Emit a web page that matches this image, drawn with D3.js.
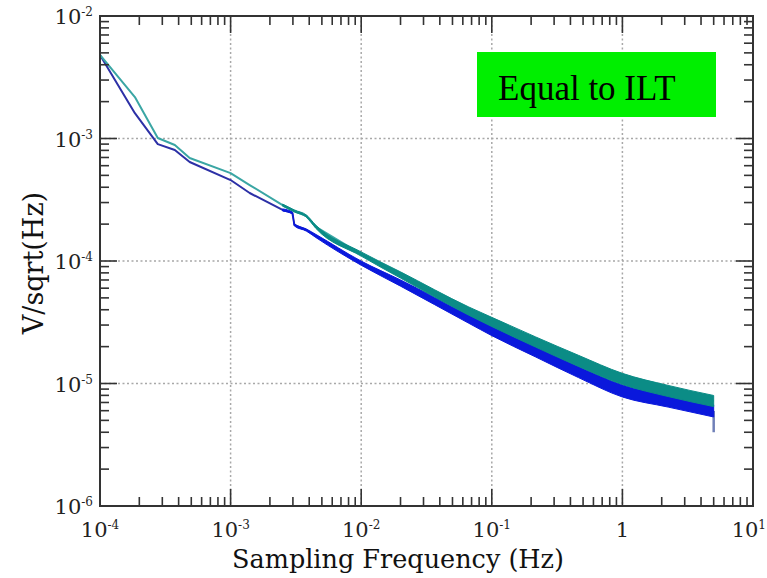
<!DOCTYPE html>
<html>
<head>
<meta charset="utf-8">
<script src="https://cdn.jsdelivr.net/npm/d3@7"></script>
<style>
  html, body { margin: 0; padding: 0; background: #fff; }
  svg { display: block; }
  .tick-label { font-family: "DejaVu Serif", serif; fill: #222; }
</style>
</head>
<body>
<div id="chart"></div>
<script>
// frequencies (Hz)
const freq = [1e-4, 1.85e-4, 2.77e-4, 3.74e-4, 4.86e-4, 1e-3, 1.4e-3, 2.5e-3, 2.97e-3, 3.08e-3,
    3.8e-3, 4.5e-3, 1e-2, 2e-2, 0.0667, 0.1, 0.217, 0.461, 1, 2.24, 5];
// V/sqrt(Hz)
const tealVals = [4.81e-3, 2.18e-3, 1.01e-3, 8.85e-4, 6.93e-4, 5.22e-4, 4.17e-4, 2.86e-4, 2.61e-4, 2.56e-4,
    2.33e-4, 1.90e-4, 1.14e-4, 7.69e-5, 3.9e-5, 3.18e-5, 2.18e-5, 1.53e-5, 1.09e-5, 8.69e-6, 7.19e-6];
const blueVals = [4.81e-3, 1.61e-3, 9.0e-4, 8.05e-4, 6.43e-4, 4.58e-4, 3.59e-4, 2.61e-4, 2.47e-4, 1.97e-4,
    1.79e-4, 1.60e-4, 9.6e-5, 6.61e-5, 3.35e-5, 2.68e-5, 1.81e-5, 1.24e-5, 8.69e-6, 7.19e-6, 5.97e-6];
// scatter of the noisy trace (ratio max/mean) at each frequency
const tealSpread = [1, 1, 1, 1, 1, 1, 1, 1.02, 1.02, 1.02, 1.02, 1.03, 1.04, 1.06, 1.08, 1.09, 1.1, 1.11, 1.11, 1.11, 1.11];
const blueSpread = [1, 1, 1, 1, 1, 1, 1, 1.02, 1.02, 1.02, 1.02, 1.03, 1.04, 1.06, 1.08, 1.09, 1.1, 1.11, 1.12, 1.12, 1.12];
// last sample of the blue trace drops off
const blueTail = [5, 4.0e-6];

const xDecades = [-4, -3, -2, -1, 0, 1];
const yDecades = [-6, -5, -4, -3, -2];
const xTitle = "Sampling Frequency (Hz)";
const yTitle = "V/sqrt(Hz)";
const boxText = "Equal to ILT";

const width = 767, height = 578;
const pLeft = 100, pRight = 753, pTop = 16, pBottom = 506;

const svg = d3.select('#chart').append('svg')
    .attr('width', width)
    .attr('height', height);

const x = d3.scaleLog().domain([1e-4, 10]).range([pLeft, pRight]);
const y = d3.scaleLog().domain([1e-6, 1e-2]).range([pBottom, pTop]);

// grid (dotted, majors only)
const gridG = svg.append('g')
    .attr('stroke', '#a8a8a8')
    .attr('stroke-width', 1.5)
    .attr('stroke-dasharray', '2,2.5');
xDecades.slice(1, -1).forEach(e => {
    gridG.append('line')
        .attr('x1', x(Math.pow(10, e))).attr('x2', x(Math.pow(10, e)))
        .attr('y1', pTop).attr('y2', pBottom);
});
yDecades.slice(1, -1).forEach(e => {
    gridG.append('line')
        .attr('y1', y(Math.pow(10, e))).attr('y2', y(Math.pow(10, e)))
        .attr('x1', pLeft).attr('x2', pRight);
});

// green label box
svg.append('rect')
    .attr('x', 477).attr('y', 52)
    .attr('width', 239).attr('height', 65)
    .attr('fill', '#00ef00');
svg.append('text')
    .attr('x', 498).attr('y', 100)
    .attr('font-family', '"Liberation Serif", "Times New Roman", serif')
    .attr('font-size', 35)
    .attr('fill', '#000')
    .text(boxText);

// traces
function drawTrace(vals, spread, bandColor, lineColor) {
    const pts = freq.map((f, i) => ({ f: f, v: vals[i], s: spread[i] }));
    const area = d3.area()
        .curve(d3.curveMonotoneX)
        .x(d => x(d.f))
        .y0(d => y(d.v / d.s))
        .y1(d => y(d.v * d.s));
    const line = d3.line()
        .x(d => x(d.f))
        .y(d => y(d.v));
    svg.append('path')
        .datum(pts)
        .attr('d', line)
        .attr('fill', 'none')
        .attr('stroke', lineColor)
        .attr('stroke-width', 2)
        .attr('stroke-linejoin', 'round');
    svg.append('path')
        .datum(pts.filter(d => d.s > 1))
        .attr('d', area)
        .attr('fill', bandColor)
        .attr('stroke', bandColor)
        .attr('stroke-width', 1);
}

// tail spike on blue
svg.append('line')
    .attr('x1', x(blueTail[0])).attr('x2', x(blueTail[0]))
    .attr('y1', y(blueVals[blueVals.length - 1])).attr('y2', y(blueTail[1]))
    .attr('stroke', '#7080b8')
    .attr('stroke-width', 2.5);

drawTrace(blueVals, blueSpread, '#0a18dc', '#2c30a6');
drawTrace(tealVals, tealSpread, '#0b8c86', '#3aa6a4');

// ticks
const tickG = svg.append('g').attr('stroke', '#333').attr('stroke-width', 1.6);
const majLen = 17, minLen = 9;
xDecades.forEach((e, i) => {
    const base = Math.pow(10, e);
    tickG.append('line').attr('x1', x(base)).attr('x2', x(base)).attr('y1', pBottom).attr('y2', pBottom - majLen);
    tickG.append('line').attr('x1', x(base)).attr('x2', x(base)).attr('y1', pTop).attr('y2', pTop + majLen);
    if (i < xDecades.length - 1) {
        d3.range(2, 10).forEach(m => {
            const xv = x(base * m);
            tickG.append('line').attr('x1', xv).attr('x2', xv).attr('y1', pBottom).attr('y2', pBottom - minLen);
            tickG.append('line').attr('x1', xv).attr('x2', xv).attr('y1', pTop).attr('y2', pTop + minLen);
        });
    }
});
yDecades.forEach((e, i) => {
    const base = Math.pow(10, e);
    tickG.append('line').attr('y1', y(base)).attr('y2', y(base)).attr('x1', pLeft).attr('x2', pLeft + majLen);
    tickG.append('line').attr('y1', y(base)).attr('y2', y(base)).attr('x1', pRight).attr('x2', pRight - majLen);
    if (i < yDecades.length - 1) {
        d3.range(2, 10).forEach(m => {
            const yv = y(base * m);
            tickG.append('line').attr('y1', yv).attr('y2', yv).attr('x1', pLeft).attr('x2', pLeft + minLen);
            tickG.append('line').attr('y1', yv).attr('y2', yv).attr('x1', pRight).attr('x2', pRight - minLen);
        });
    }
});

// frame
svg.append('rect')
    .attr('x', pLeft).attr('y', pTop)
    .attr('width', pRight - pLeft).attr('height', pBottom - pTop)
    .attr('fill', 'none')
    .attr('stroke', '#333')
    .attr('stroke-width', 2);

// tick labels
function powLabel(g, e) {
    if (e === 0) {
        g.append('tspan').text('1');
        return;
    }
    g.append('tspan').text('10');
    g.append('tspan').attr('font-size', 12).attr('dy', -8).text(e);
}
xDecades.forEach(e => {
    const t = svg.append('text')
        .attr('class', 'tick-label')
        .attr('x', x(Math.pow(10, e)))
        .attr('y', 537)
        .attr('font-size', 21)
        .attr('text-anchor', 'middle');
    powLabel(t, e);
    // keep the last label inside the picture
    const bb = t.node().getBBox();
    if (bb.x + bb.width > width - 1) {
        t.attr('x', x(Math.pow(10, e)) - (bb.x + bb.width - width + 1));
    }
});
yDecades.forEach(e => {
    const t = svg.append('text')
        .attr('class', 'tick-label')
        .attr('x', 93)
        .attr('y', y(Math.pow(10, e)) + 8)
        .attr('font-size', 21)
        .attr('text-anchor', 'end');
    powLabel(t, e);
});

// axis titles
svg.append('text')
    .attr('x', 398).attr('y', 568)
    .attr('text-anchor', 'middle')
    .attr('font-family', '"DejaVu Serif", serif')
    .attr('font-size', 25.5)
    .attr('fill', '#111')
    .text(xTitle);
svg.append('text')
    .attr('transform', 'translate(43,263) rotate(-90)')
    .attr('text-anchor', 'middle')
    .attr('font-family', '"DejaVu Serif", serif')
    .attr('font-size', 27)
    .attr('fill', '#111')
    .text(yTitle);
</script>
</body>
</html>
